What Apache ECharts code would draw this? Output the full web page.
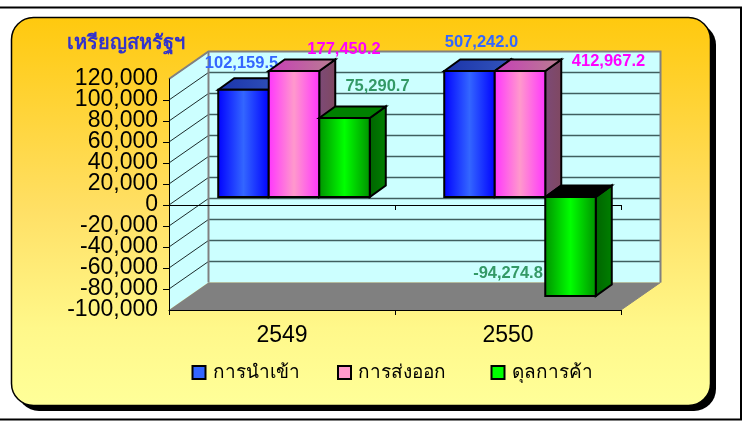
<!DOCTYPE html>
<html>
<head>
<meta charset="utf-8">
<style>
    html, body { margin: 0; padding: 0; background: #fff; overflow: hidden; }
    #chart { width: 747px; height: 421px; }
</style>
<script src="https://cdn.jsdelivr.net/npm/echarts@6/dist/echarts.min.js"></script>
</head>
<body>
<div id="chart"></div>
<script>
var categories = ['2549', '2550'];
var seriesNames = ['การนำเข้า', 'การส่งออก', 'ดุลการค้า'];
var importValues = [102159.5, 507242.0];
var exportValues = [177450.2, 412967.2];
var balanceValues = [75290.7, -94274.8];
var yMin = -100000;
var yMax = 120000;
var yStep = 20000;
var yTicks = [120000, 100000, 80000, 60000, 40000, 20000, 0, -20000, -40000, -60000, -80000, -100000];

var FONT = '"Liberation Sans", Arial, sans-serif';
var THAI = '"Noto Sans", "DejaVu Sans", "Liberation Sans", sans-serif';

// depth of the fake 3D box, in px
var WALL_DX = 39.5, WALL_DY = -27.5;
var BAR_DX = 12, BAR_DY = -8;
var SIDE_DX = 16, SIDE_DY = -11.5;
var BAR_SHARE = 0.2235;

var styles = [
    { edge: '#0000ff', mid: '#3366ff', top: ['#1a33aa', '#3355bb'], topNeg: '#000', side: ['#1a33aa', '#1a33aa'], label: '#3366ff' },
    { edge: '#ff33ff', mid: '#ff99cc', top: ['#c83cb8', '#b88090'], topNeg: '#000', side: ['#7c4a78', '#804860'], label: '#ff00ff' },
    { edge: '#009000', mid: '#00ff00', top: ['#008000', '#008000'], topNeg: '#000', side: ['#006400', '#008000'], label: '#339966' }
];
// label offset from the top centre of the bar, hand placed like the original
var labelShift = [
    [[-2, -26], [12, -29]],
    [[50, -22], [88.5, -10]],
    [[33, -31], [-62.5, -23]]
];
var legendLeft = [191.5, 337, 490.5];

function fmt(v, d) {
    return v.toLocaleString('en-US', { minimumFractionDigits: d, maximumFractionDigits: d });
}

function poly(points, fill, stroke, width) {
    return {
        type: 'polygon',
        shape: { points: points },
        style: { fill: fill, stroke: stroke || null, lineWidth: width || 0 }
    };
}

function hgrad(a, b, c) {
    var stops = c ? [{ offset: 0, color: a }, { offset: 0.5, color: b }, { offset: 1, color: c }]
                  : [{ offset: 0, color: a }, { offset: 1, color: b }];
    return new echarts.graphic.LinearGradient(0, 0, 1, 0, stops);
}

// the walls, floor and grid lines behind the bars
function renderWalls(params, api) {
    var rect = params.coordSys;
    var x0 = rect.x, x1 = rect.x + rect.width;
    var yTop = api.coord([0, yMax])[1];
    var yBot = api.coord([0, yMin])[1];
    var kids = [];
    kids.push(poly([[x0, yTop], [x0 + WALL_DX, yTop + WALL_DY], [x1 + WALL_DX, yTop + WALL_DY],
        [x1 + WALL_DX, yBot + WALL_DY], [x0 + WALL_DX, yBot + WALL_DY], [x0, yBot]], '#ccffff'));
    kids.push(poly([[x0, yBot], [x0 + WALL_DX, yBot + WALL_DY], [x1 + WALL_DX, yBot + WALL_DY], [x1, yBot]], '#808080'));
    yTicks.forEach(function (t) {
        var y = api.coord([0, t])[1];
        if (t != yMin) {
            kids.push({ type: 'line', shape: { x1: x0, y1: y, x2: x0 + WALL_DX, y2: y + WALL_DY },
                style: { stroke: t == yMax ? '#808080' : '#1c2c2c', lineWidth: 1 } });
        }
        if (t != yMax && t != yMin) {
            kids.push({ type: 'line', shape: { x1: x0 + WALL_DX, y1: y + WALL_DY, x2: x1 + WALL_DX, y2: y + WALL_DY },
                style: { stroke: '#3f5f5f', lineWidth: 1.3 } });
        }
    });
    // wall frame
    kids.push({ type: 'polyline', shape: { points: [[x0, yTop], [x0 + WALL_DX, yTop + WALL_DY], [x1 + WALL_DX, yTop + WALL_DY],
        [x1 + WALL_DX, yBot + WALL_DY]] }, style: { fill: null, stroke: '#808080', lineWidth: 2 } });
    kids.push({ type: 'line', shape: { x1: x0 + WALL_DX, y1: yTop + WALL_DY, x2: x0 + WALL_DX, y2: yBot + WALL_DY },
        style: { stroke: '#808080', lineWidth: 2 } });
    kids.push({ type: 'line', shape: { x1: x1 + WALL_DX, y1: yBot + WALL_DY, x2: x1, y2: yBot },
        style: { stroke: '#808080', lineWidth: 1 } });
    return { type: 'group', children: kids };
}

function barRenderer(seriesIndex) {
    return function (params, api) {
        var cat = api.value(0);
        var val = api.value(1);
        var s = styles[seriesIndex];
        var shown = Math.max(yMin, Math.min(yMax, val));
        var band = api.size([1, 0])[0];
        var w = band * BAR_SHARE;
        var center = api.coord([cat, 0])[0] + BAR_DX;
        var x = center + (seriesIndex - 1.5) * w;
        var y0 = api.coord([cat, 0])[1] + BAR_DY;
        var y1 = api.coord([cat, shown])[1] + BAR_DY;
        var top = Math.min(y0, y1), bot = Math.max(y0, y1);
        var line = '#000';
        var kids = [];
        kids.push(poly([[x + w, top], [x + w + SIDE_DX, top + SIDE_DY], [x + w + SIDE_DX, bot + SIDE_DY], [x + w, bot]],
            hgrad(s.side[0], s.side[1]), line, 2));
        kids.push(poly([[x, top], [x + SIDE_DX, top + SIDE_DY], [x + w + SIDE_DX, top + SIDE_DY], [x + w, top]],
            val < 0 ? s.topNeg : hgrad(s.top[0], s.top[1]), line, 2));
        kids.push({
            type: 'rect',
            shape: { x: x, y: top, width: w, height: bot - top },
            style: { fill: hgrad(s.edge, s.mid, s.edge), stroke: line, lineWidth: 2 }
        });
        var shift = labelShift[seriesIndex][cat];
        kids.push({
            type: 'text',
            z2: 50,
            style: {
                text: fmt(val, 1),
                x: x + w / 2 + shift[0],
                y: (val < 0 ? bot : top) + shift[1],
                align: 'center',
                verticalAlign: 'middle',
                fill: s.label,
                font: 'bold 16.5px ' + FONT
            }
        });
        return { type: 'group', children: kids };
    };
}

function toRows(values) {
    return values.map(function (v, i) { return [i, v]; });
}

var allValues = [importValues, exportValues, balanceValues];
var barSeries = allValues.map(function (values, i) {
    return {
        name: seriesNames[i],
        type: 'custom',
        coordinateSystem: 'cartesian2d',
        renderItem: barRenderer(i),
        data: toRows(values),
        clip: false,
        z: 5 + i,
        encode: { x: 0, y: 1 },
        itemStyle: { color: styles[i].mid }
    };
});

// one legend per item, the gaps in the original are not even
var legends = seriesNames.map(function (n, i) {
    return {
        left: legendLeft[i],
        top: 363,
        padding: 0,
        itemWidth: 13,
        itemHeight: 13,
        icon: 'rect',
        data: [{ name: n, itemStyle: { color: styles[i].mid, borderColor: '#000', borderWidth: 2 } }],
        textStyle: { color: '#000', fontSize: 19, fontFamily: THAI, padding: [0, 0, 0, 2] }
    };
});

var option = {
    animation: false,
    backgroundColor: '#fff',
    textStyle: { fontFamily: FONT },
    title: {
        text: 'เหรียญสหรัฐฯ',
        left: 67,
        top: 33,
        padding: 0,
        textStyle: { color: '#3333cc', fontSize: 20, fontWeight: 'bold', fontFamily: THAI }
    },
    legend: legends,
    grid: { left: 169, right: 126, top: 79, bottom: 111, containLabel: false },
    xAxis: [
        {
            type: 'category',
            data: categories,
            position: 'bottom',
            z: 4,
            axisLine: { show: true, onZero: false, lineStyle: { color: '#000', width: 1 } },
            axisTick: { show: true, length: 5, lineStyle: { color: '#000' } },
            axisLabel: { color: '#000', fontSize: 23, margin: 14, fontFamily: FONT },
            splitLine: { show: false }
        },
        {
            type: 'category',
            data: categories,
            position: 'bottom',
            z: 4,
            axisLine: { show: true, onZero: true, lineStyle: { color: '#000', width: 1 } },
            axisTick: { show: true, length: 5, lineStyle: { color: '#000' } },
            axisLabel: { show: false },
            splitLine: { show: false }
        }
    ],
    // the labels sit closer than their own height, so the two end labels get
    // their own axis or echarts drops the neighbours
    yAxis: [
        {
            type: 'value',
            position: 'left',
            min: yMin,
            max: yMax,
            interval: yStep,
            z: 4,
            axisLine: { show: true, onZero: false, lineStyle: { color: '#000', width: 1 } },
            axisTick: { show: true, length: 6, lineStyle: { color: '#000' } },
            axisLabel: {
                color: '#000',
                fontSize: 23,
                margin: 11,
                fontFamily: FONT,
                showMinLabel: false,
                showMaxLabel: false,
                hideOverlap: false,
                formatter: function (v) { return fmt(v, 0); }
            },
            splitLine: { show: false }
        },
        {
            type: 'value',
            position: 'left',
            min: yMin,
            max: yMax,
            interval: yStep,
            z: 4,
            axisLine: { show: false, onZero: false },
            axisTick: { show: false },
            axisLabel: {
                color: '#000',
                fontSize: 23,
                margin: 11,
                fontFamily: FONT,
                showMinLabel: true,
                showMaxLabel: true,
                hideOverlap: false,
                formatter: function (v) { return (v == yMin || v == yMax) ? fmt(v, 0) : ''; }
            },
            splitLine: { show: false }
        }
    ],
    graphic: [
        { type: 'rect', z: -10, silent: true, shape: { x: -5, y: 7.5, width: 746, height: 412 },
            style: { fill: '#fff', stroke: '#000', lineWidth: 2 } },
        { type: 'rect', z: -9, silent: true, shape: { x: 17, y: 23, width: 699, height: 388, r: 22 },
            style: { fill: '#000' } },
        { type: 'rect', z: -8, silent: true, shape: { x: 11.5, y: 17.5, width: 699, height: 388, r: 22 },
            style: {
                stroke: '#000',
                lineWidth: 1.5,
                fill: new echarts.graphic.LinearGradient(0, 0, 0, 1, [
                    { offset: 0, color: '#ffc90e' },
                    { offset: 0.5, color: '#ffe066' },
                    { offset: 0.8, color: '#fff88a' },
                    { offset: 1, color: '#ffff99' }
                ])
            } }
    ],
    series: [{
        type: 'custom',
        coordinateSystem: 'cartesian2d',
        renderItem: renderWalls,
        data: [[0, 0]],
        clip: false,
        silent: true,
        z: 1,
        legendHoverLink: false
    }].concat(barSeries)
};

var chart = echarts.init(document.getElementById('chart'));
chart.setOption(option);
</script>
</body>
</html>
